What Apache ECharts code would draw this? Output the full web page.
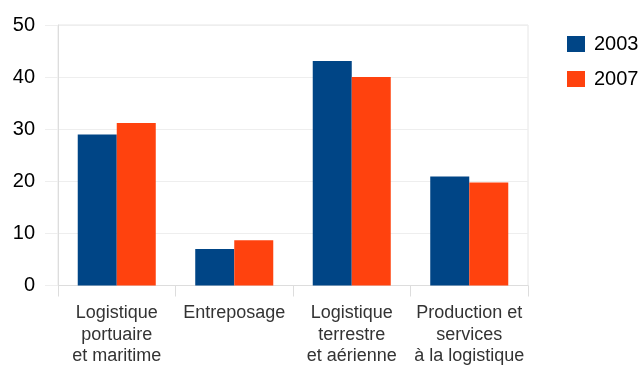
<!DOCTYPE html>
<html>
<head>
<meta charset="utf-8">
<script src="https://cdn.jsdelivr.net/npm/echarts@6/dist/echarts.min.js"></script>
<style>html,body{margin:0;padding:0;background:#fff;}#c{width:644px;height:367px;}</style>
</head>
<body>
<div id="c"></div>
<script>
var categories = ['Logistique\nportuaire\net maritime', 'Entreposage', 'Logistique\nterrestre\net aérienne', 'Production et\nservices\nà la logistique'];
var seriesNames = ['2003', '2007'];
var values2003 = [29.0, 7.0, 43.1, 20.9];
var values2007 = [31.2, 8.7, 40.0, 19.75];
var yTicks = [0, 10, 20, 30, 40, 50];

var chart = echarts.init(document.getElementById('c'), null, {renderer: 'canvas'});
chart.setOption({
  animation: false,
  backgroundColor: '#ffffff',
  textStyle: {fontFamily: 'Liberation Sans'},
  grid: {left: 58, right: 116, top: 25, bottom: 77.5, show: true, borderColor: '#e6e6e6', borderWidth: 1, backgroundColor: 'transparent'},
  legend: {
    orient: 'vertical', left: 567, top: 34, padding: 0,
    itemWidth: 18, itemHeight: 16, itemGap: 15,
    icon: 'rect',
    textStyle: {fontSize: 20, color: '#000', fontFamily: 'Liberation Sans', padding: [3,0,0,4]},
    data: seriesNames
  },
  xAxis: {
    type: 'category', data: categories, boundaryGap: true,
    axisLine: {lineStyle: {color: '#dddddd'}},
    axisTick: {show: true, length: 11, lineStyle: {color: '#dddddd'}},
    axisLabel: {fontSize: 18, color: '#333333', lineHeight: 21.5, margin: 17, interval: 0, fontFamily: 'Liberation Sans'}
  },
  yAxis: {
    type: 'value', min: yTicks[0], max: yTicks[yTicks.length-1], interval: 10,
    axisLine: {show: true, lineStyle: {color: '#dddddd'}},
    axisTick: {show: true, length: 13, lineStyle: {color: '#eeeeee'}},
    axisLabel: {fontSize: 20, color: '#000', margin: 23, fontFamily: 'Liberation Sans'},
    splitLine: {lineStyle: {color: '#eeeeee'}}
  },
  series: [
    {name: seriesNames[0], type: 'bar', data: values2003, barGap: '0%', barCategoryGap: '33.6%', itemStyle: {color: '#004586'}},
    {name: seriesNames[1], type: 'bar', data: values2007, barGap: '0%', barCategoryGap: '33.6%', itemStyle: {color: '#ff420e'}}
  ]
});
</script>
</body>
</html>
